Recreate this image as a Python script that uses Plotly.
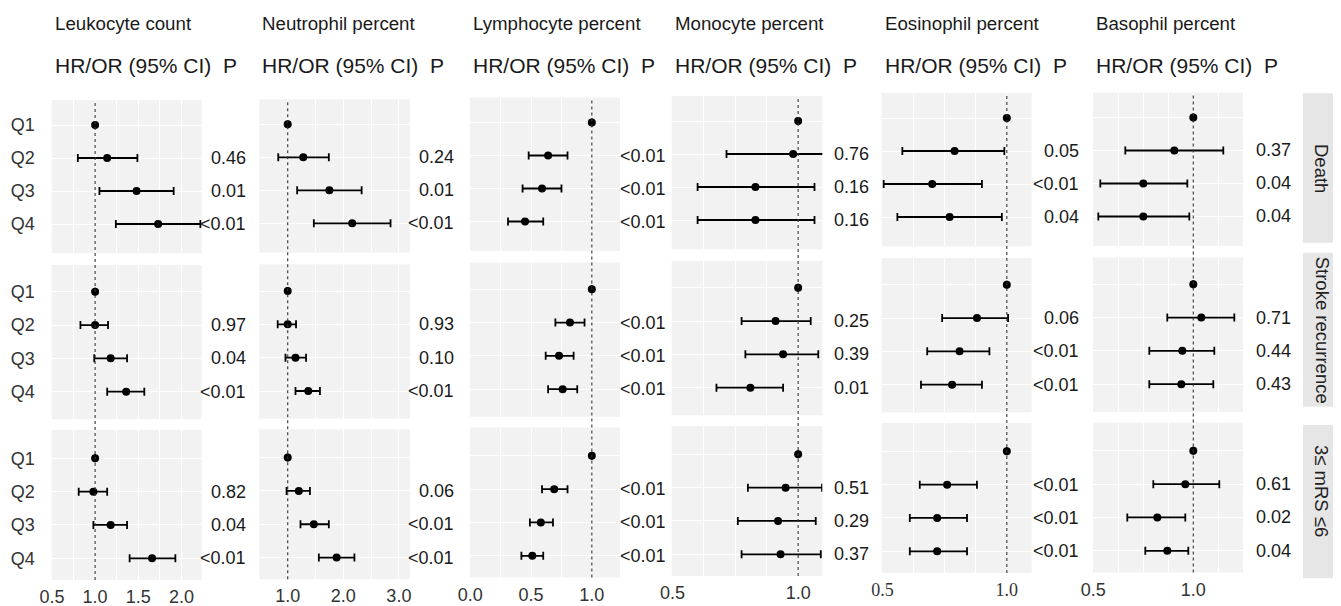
import plotly.graph_objects as go

W, H = 1341, 606
OFF = 8  # page body margin of the browser; figure is drawn inside it
FW, FH = W - OFF, H - OFF

# ---------------- data ----------------
quartiles = ["Q1", "Q2", "Q3", "Q4"]
outcomes = ["Death", "Stroke recurrence", "3≤ mRS ≤6"]
markers = ["Leukocyte count", "Neutrophil percent", "Lymphocyte percent",
           "Monocyte percent", "Eosinophil percent", "Basophil percent"]

# rows: Death, Stroke recurrence, 3<=mRS<=6 ; columns: Q1..Q4
leuko_est = [[1.0, 1.14, 1.48, 1.73], [1.0, 1.00, 1.18, 1.36], [1.0, 0.98, 1.18, 1.66]]
leuko_lo = [[None, 0.80, 1.05, 1.24], [None, 0.83, 0.99, 1.14], [None, 0.81, 0.98, 1.40]]
leuko_hi = [[None, 1.49, 1.91, 2.22], [None, 1.15, 1.37, 1.57], [None, 1.14, 1.37, 1.93]]
leuko_p = [["0.46", "0.01", "<0.01"], ["0.97", "0.04", "<0.01"], ["0.82", "0.04", "<0.01"]]

neutro_est = [[1.0, 1.28, 1.75, 2.16], [1.0, 1.00, 1.14, 1.37], [1.0, 1.20, 1.47, 1.88]]
neutro_lo = [[None, 0.83, 1.17, 1.47], [None, 0.82, 0.96, 1.14], [None, 0.98, 1.23, 1.56]]
neutro_hi = [[None, 1.74, 2.33, 2.85], [None, 1.15, 1.33, 1.58], [None, 1.40, 1.74, 2.20]]
neutro_p = [["0.24", "0.01", "<0.01"], ["0.93", "0.10", "<0.01"], ["0.06", "<0.01", "<0.01"]]

lympho_est = [[1.0, 0.64, 0.59, 0.45], [1.0, 0.82, 0.73, 0.76], [1.0, 0.69, 0.58, 0.51]]
lympho_lo = [[None, 0.48, 0.43, 0.31], [None, 0.70, 0.62, 0.64], [None, 0.59, 0.49, 0.42]]
lympho_hi = [[None, 0.80, 0.75, 0.60], [None, 0.94, 0.85, 0.88], [None, 0.80, 0.68, 0.60]]
lympho_p = [["<0.01", "<0.01", "<0.01"], ["<0.01", "<0.01", "<0.01"], ["<0.01", "<0.01", "<0.01"]]

mono_est = [[1.0, 0.98, 0.83, 0.83], [1.0, 0.91, 0.94, 0.81], [1.0, 0.95, 0.92, 0.93]]
mono_lo = [[None, 0.715, 0.60, 0.60], [None, 0.775, 0.79, 0.675], [None, 0.80, 0.76, 0.775]]
mono_hi = [[None, 1.12, 1.065, 1.065], [None, 1.05, 1.08, 0.94], [None, 1.095, 1.07, 1.09]]
mono_p = [["0.76", "0.16", "0.16"], ["0.25", "0.39", "0.01"], ["0.51", "0.29", "0.37"]]

eosin_est = [[1.0, 0.79, 0.70, 0.77], [1.0, 0.88, 0.81, 0.78], [1.0, 0.76, 0.72, 0.72]]
eosin_lo = [[None, 0.58, 0.505, 0.56], [None, 0.74, 0.68, 0.655], [None, 0.65, 0.61, 0.61]]
eosin_hi = [[None, 0.99, 0.90, 0.98], [None, 1.005, 0.93, 0.90], [None, 0.88, 0.84, 0.84]]
eosin_p = [["0.05", "<0.01", "0.04"], ["0.06", "<0.01", "<0.01"], ["<0.01", "<0.01", "<0.01"]]

baso_est = [[1.0, 0.905, 0.75, 0.75], [1.0, 1.04, 0.945, 0.94], [1.0, 0.96, 0.82, 0.87]]
baso_lo = [[None, 0.66, 0.535, 0.525], [None, 0.87, 0.78, 0.78], [None, 0.80, 0.67, 0.76]]
baso_hi = [[None, 1.15, 0.97, 0.98], [None, 1.205, 1.105, 1.10], [None, 1.13, 0.96, 0.975]]
baso_p = [["0.37", "0.04", "0.04"], ["0.71", "0.44", "0.43"], ["0.61", "0.02", "0.04"]]

# x-axis ticks per column
tick_vals = [[0.5, 1.0, 1.5, 2.0], [1, 2, 3], [0.0, 0.5, 1.0],
             [0.5, 0.75, 1.0], [0.5, 0.75, 1.0], [0.5, 0.75, 1.0]]
tick_text = [["0.5", "1.0", "1.5", "2.0"], ["1.0", "2.0", "3.0"], ["0.0", "0.5", "1.0"],
             ["0.5", "", "1.0"], ["0.5", "", "1.0"], ["0.5", "", "1.0"]]
minor_vals = [[0.75, 1.25, 1.75], [0.5, 1.5, 2.5], [0.25, 0.75],
              [0.625, 0.875], [0.625, 0.875], [0.625, 0.875, 1.125]]

est_all = [leuko_est, neutro_est, lympho_est, mono_est, eosin_est, baso_est]
lo_all = [leuko_lo, neutro_lo, lympho_lo, mono_lo, eosin_lo, baso_lo]
hi_all = [leuko_hi, neutro_hi, lympho_hi, mono_hi, eosin_hi, baso_hi]
p_all = [leuko_p, neutro_p, lympho_p, mono_p, eosin_p, baso_p]

# ---------------- layout geometry (screen pixels) ----------------
col_px = [(51.7, 201.7), (259.3, 410.0), (470.0, 620.0),
          (671.7, 822.3), (881.7, 1031.7), (1093.0, 1243.0)]
col_dy = [0, -0.7, -2.5, -4, -7, -7.5]
x_ranges = [[0.497, 2.235], [0.489, 3.20], [-0.003, 1.232],
            [0.497, 1.096], [0.497, 1.100], [0.4985, 1.2485]]
# top, bottom, Q1 centre, Q4 centre
row_px = [(100.0, 253.3, 125.0, 224.0), (265.0, 419.3, 291.7, 391.7), (430.0, 580.0, 458.3, 558.3)]
p_right = [248, 456, 668, 871, 1081, 1293]
strips = [(93.3, 242.7, 168.0), (252.7, 406.7, 329.7), (425.0, 578.3, 491.0)]


def px_x(px):
    return (px - OFF) / FW


def px_y(py):
    return 1 - (py - OFF) / FH


FONT = "Liberation Sans, Arial, sans-serif"
TXT = "#1a1a1a"

fig = go.Figure()
layout = dict(template="none", width=FW, height=FH, autosize=False,
              margin=dict(l=0, r=0, t=0, b=0, pad=0),
              paper_bgcolor="white", plot_bgcolor="#f2f2f2", showlegend=False,
              font=dict(family=FONT, size=18, color=TXT))
annotations = []
shapes = []

ypos = [1, 2, 3, 4]

for r in range(3):
    top, bot, q1, q4 = row_px[r]
    s = (q4 - q1) / 3.0
    yr = [4 + (bot - q4) / s, 1 - (q1 - top) / s]
    for c in range(6):
        i = r * 6 + c + 1
        sfx = "" if i == 1 else str(i)
        dy = col_dy[c]
        xl, xr = col_px[c]
        xa = dict(domain=[px_x(xl), px_x(xr)], range=x_ranges[c], anchor="y" + sfx,
                  automargin=False,
                  tickmode="array", tickvals=tick_vals[c], ticktext=tick_text[c],
                  showgrid=True, gridcolor="white", gridwidth=1.3, zeroline=False,
                  showline=False, ticks="", showticklabels=(r == 2),
                  ticklabelstandoff=4,
                  tickfont=dict(size=18, color="#333",
                                family=("Liberation Serif, Times New Roman, serif" if c == 4 else FONT)),
                  minor=dict(tickvals=minor_vals[c], showgrid=True, gridcolor="white",
                             gridwidth=0.7, ticks=""),
                  fixedrange=True)
        ya = dict(domain=[px_y(bot + dy), px_y(top + dy)], range=yr,
                  anchor="x" + sfx, automargin=False,
                  tickmode="array", tickvals=ypos, ticktext=quartiles,
                  showgrid=True, gridcolor="white", gridwidth=1.3, zeroline=False,
                  showline=False, ticks="", showticklabels=(c == 0),
                  ticklabelstandoff=16, tickfont=dict(size=18, color="#333"),
                  fixedrange=True)
        layout["xaxis" + sfx] = xa
        layout["yaxis" + sfx] = ya

        est = est_all[c][r]
        lo = lo_all[c][r]
        hi = hi_all[c][r]
        eplus = [None if h is None else h - e for e, h in zip(est, hi)]
        eminus = [None if l is None else e - l for e, l in zip(est, lo)]
        fig.add_trace(go.Scatter(
            x=est, y=ypos, mode="markers", xaxis="x" + sfx, yaxis="y" + sfx,
            marker=dict(color="black", size=8, line=dict(width=0)),
            error_x=dict(type="data", symmetric=False, array=eplus, arrayminus=eminus,
                         color="black", thickness=1.8, width=4),
            hoverinfo="skip"))

        for k, ptxt in enumerate(p_all[c][r]):
            annotations.append(dict(text=ptxt, xref="paper", yref="y" + sfx,
                                    x=px_x(p_right[c]), y=ypos[k + 1], xanchor="right",
                                    yanchor="middle", showarrow=False,
                                    font=dict(size=18, color=TXT, family=FONT)))

# reference dotted lines at 1.0 spanning all rows of each column
for c in range(6):
    sfx = "" if c == 0 else str(c + 1)
    dy = col_dy[c]
    shapes.append(dict(type="line", xref="x" + sfx, yref="paper", x0=1.0, x1=1.0,
                       y0=px_y(row_px[2][1] + dy), y1=px_y(row_px[0][0] + dy),
                       line=dict(color="#333", width=1.1, dash="dot"), layer="above"))

# column headers
for c in range(6):
    xl = col_px[c][0] + 1
    annotations.append(dict(text=markers[c], xref="paper", yref="paper", x=px_x(xl),
                            y=px_y(24), xanchor="left", yanchor="middle", showarrow=False,
                            font=dict(size=18.7, color=TXT, family=FONT)))
    annotations.append(dict(text="HR/OR (95% CI)\u00a0\u00a0P", xref="paper", yref="paper",
                            x=px_x(xl), y=px_y(65), xanchor="left", yanchor="middle",
                            showarrow=False, font=dict(size=21, color=TXT, family=FONT)))

# facet strips
for r in range(3):
    t, b, cy = strips[r]
    shapes.append(dict(type="rect", xref="paper", yref="paper", x0=px_x(1303), x1=1.0,
                       y0=px_y(b), y1=px_y(t), fillcolor="#e6e6e6",
                       line=dict(width=0), layer="below"))
    annotations.append(dict(text=outcomes[r], xref="paper", yref="paper", x=px_x(1322),
                            y=px_y(cy), xanchor="center", yanchor="middle",
                            textangle=90, showarrow=False,
                            font=dict(size=18.5, color="#222", family=FONT)))

layout["annotations"] = annotations
layout["shapes"] = shapes
fig.update_layout(**layout)
fig.write_html("out.html")
